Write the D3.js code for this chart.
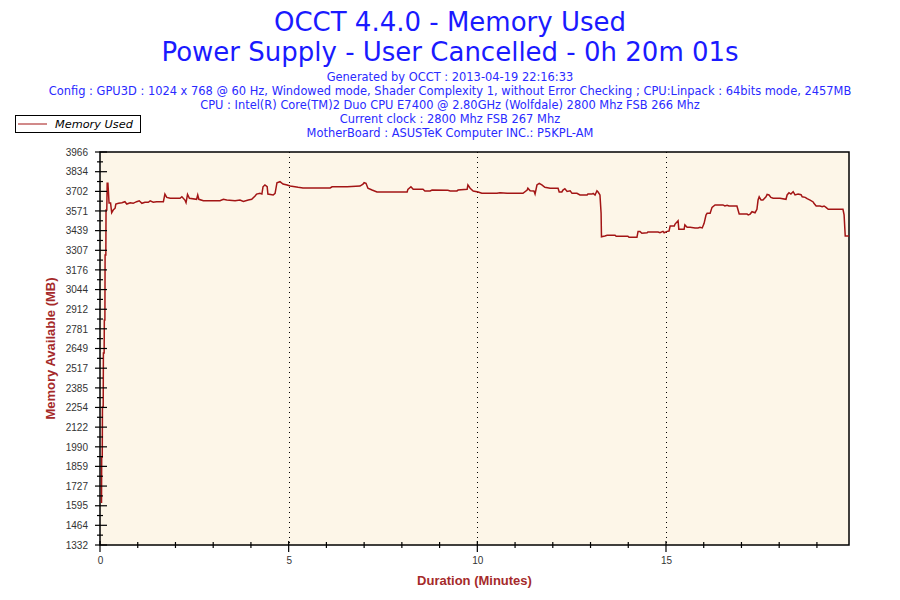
<!DOCTYPE html>
<html><head><meta charset="utf-8">
<script src="https://cdn.jsdelivr.net/npm/d3@7"></script>
<style>body{margin:0;background:#fff}svg{display:block}</style>
</head><body><svg id="c" width="900" height="600"></svg>
<script>
const titleLines = ["OCCT 4.4.0 - Memory Used", "Power Supply - User Cancelled - 0h 20m 01s"];
const infoLines = [
  "Generated by OCCT : 2013-04-19 22:16:33",
  "Config : GPU3D : 1024 x 768 @ 60 Hz, Windowed mode, Shader Complexity 1, without Error Checking ; CPU:Linpack : 64bits mode, 2457MB",
  "CPU : Intel(R) Core(TM)2 Duo CPU E7400 @ 2.80GHz (Wolfdale) 2800 Mhz FSB 266 Mhz",
  "Current clock : 2800 Mhz FSB 267 Mhz",
  "MotherBoard : ASUSTeK Computer INC.: P5KPL-AM"
];
const seriesName = "Memory Used";
const xLabel = "Duration (Minutes)";
const yLabel = "Memory Available (MB)";
const xTickLabels = [0, 5, 10, 15];
const xMinorTicks = [1,2,3,4,6,7,8,9,11,12,13,14,16,17,18,19];
const yTickLabels = [1332,1464,1595,1727,1859,1990,2122,2254,2385,2517,2649,2781,2912,3044,3176,3307,3439,3571,3702,3834,3966];
const xDomain = [0, 19.85];
const yDomain = [1332, 3966];

const times = [0.04,0.045,0.06,0.065,0.085,0.09,0.11,0.115,0.13,0.135,0.155,0.16,0.18,0.19,0.21,0.24,0.28,0.31,0.35,0.40,0.42,0.49,0.58,0.66,0.71,0.80,0.88,0.97,1.04,1.11,1.19,1.28,1.33,1.41,1.50,1.68,1.72,1.77,1.86,2.12,2.17,2.25,2.28,2.32,2.37,2.56,2.59,2.62,2.74,3.18,3.27,3.36,3.58,3.71,3.80,3.93,4.02,4.11,4.15,4.24,4.29,4.32,4.37,4.43,4.45,4.59,4.64,4.69,4.77,4.85,4.96,5.04,5.25,5.38,6.10,6.15,6.55,6.89,6.97,7.00,7.05,7.10,7.21,7.34,8.14,8.16,8.24,8.30,8.56,8.61,8.75,8.80,9.22,9.28,9.46,9.49,9.73,9.75,9.81,9.89,10.02,10.12,10.52,10.60,10.79,11.21,11.32,11.34,11.40,11.50,11.53,11.58,11.64,11.71,11.79,11.93,12.14,12.17,12.24,12.27,12.32,12.38,12.46,12.51,12.64,12.72,12.91,12.93,13.04,13.07,13.12,13.17,13.20,13.25,13.28,13.29,13.38,13.44,13.65,13.68,13.99,14.02,14.23,14.26,14.31,14.36,14.50,14.52,14.79,14.84,14.92,14.95,15.03,15.08,15.11,15.22,15.24,15.32,15.34,15.48,15.50,15.56,15.64,15.77,15.85,15.90,15.96,16.01,16.06,16.09,16.17,16.22,16.30,16.51,16.56,16.62,16.67,16.88,16.94,17.15,17.18,17.23,17.28,17.36,17.41,17.44,17.47,17.52,17.57,17.65,17.68,17.73,17.78,17.84,18.02,18.18,18.21,18.26,18.31,18.37,18.42,18.50,18.58,18.61,18.69,18.74,18.82,18.90,18.92,18.98,19.08,19.14,19.19,19.24,19.30,19.69,19.72,19.75,19.85];
const memoryUsed = [1613,1922,1922,2257,2257,2619,2619,2840,2840,3276,3276,3577,3577,3756,3756,3624,3624,3559,3577,3589,3617,3622,3626,3633,3617,3626,3622,3633,3639,3622,3629,3629,3638,3629,3633,3633,3684,3662,3656,3656,3666,3644,3626,3682,3656,3649,3678,3649,3639,3639,3649,3644,3639,3644,3635,3644,3649,3671,3684,3689,3684,3733,3745,3733,3684,3678,3689,3760,3767,3751,3745,3738,3729,3725,3725,3733,3733,3738,3751,3760,3756,3723,3711,3698,3698,3716,3733,3716,3716,3705,3705,3711,3709,3705,3705,3711,3716,3745,3723,3705,3698,3689,3689,3693,3689,3689,3711,3723,3706,3705,3684,3745,3756,3745,3729,3723,3723,3698,3698,3711,3720,3702,3706,3689,3689,3678,3678,3684,3684,3689,3678,3706,3698,3678,3555,3398,3403,3408,3408,3401,3401,3394,3394,3434,3434,3421,3425,3430,3430,3425,3434,3425,3434,3436,3470,3470,3483,3505,3448,3448,3477,3461,3461,3457,3457,3461,3457,3488,3544,3555,3555,3595,3611,3611,3604,3609,3604,3604,3550,3550,3544,3550,3566,3559,3582,3644,3666,3644,3644,3666,3682,3678,3662,3656,3656,3649,3678,3693,3684,3700,3678,3684,3680,3666,3662,3653,3644,3631,3622,3604,3604,3599,3604,3595,3582,3582,3544,3403,3403];

const svg = d3.select("#c");
const W = 900, H = 600;
const m = {left:100, right:51, top:152, bottom:55};
const x = d3.scaleLinear().domain(xDomain).range([m.left, W - m.right]);
const y = d3.scaleLinear().domain(yDomain).range([H - m.bottom, m.top]);

// titles
const tFont = "Verdana, 'DejaVu Sans', sans-serif";
svg.selectAll("text.title").data(titleLines).enter().append("text")
  .attr("x", 450).attr("y", (d,i) => 31 + i*30)
  .attr("text-anchor","middle").attr("font-family", tFont).attr("font-size", 26)
  .attr("fill", "#1a1aff").text(d => d);
svg.selectAll("text.info").data(infoLines).enter().append("text")
  .attr("x", 450).attr("y", (d,i) => 81 + i*14)
  .attr("text-anchor","middle").attr("font-family", tFont).attr("font-size", 11.45)
  .attr("fill", "#2a2aff").text(d => d);

// plot background
svg.append("rect").attr("x", x(xDomain[0])).attr("y", y(yDomain[1]))
  .attr("width", x(xDomain[1]) - x(xDomain[0])).attr("height", y(yDomain[0]) - y(yDomain[1]))
  .attr("fill", "#fdf6e8").attr("stroke", "#000").attr("stroke-width", 1.5);

// dotted vertical grid at major x ticks
svg.selectAll("line.grid").data(xTickLabels.filter(d => d > 0)).enter().append("line")
  .attr("x1", d => Math.round(x(d)) + 0.5).attr("x2", d => Math.round(x(d)) + 0.5)
  .attr("y1", y(yDomain[1])).attr("y2", y(yDomain[0]))
  .attr("stroke", "#000").attr("stroke-width", 1).attr("stroke-dasharray", "1,4");

// series line
const line = d3.line().x((d,i) => x(times[i])).y(d => y(d));
svg.append("path").datum(memoryUsed).attr("d", line)
  .attr("fill","none").attr("stroke","#a31515").attr("stroke-width", 1.5);

// axes
const axFont = "'Liberation Sans', Arial, sans-serif";
const yAxis = d3.axisLeft(y).tickValues(yTickLabels).tickSize(0).tickPadding(12).tickFormat(d3.format("d"));
const gy = svg.append("g").attr("transform", `translate(${m.left},0)`).call(yAxis);
gy.select(".domain").remove();
gy.selectAll("text").attr("font-family", axFont).attr("font-size", 10).attr("fill", "#333");
gy.selectAll("line.maj").data(yTickLabels).enter().append("line")
  .attr("x1", -5).attr("x2", 7).attr("y1", d => y(d)).attr("y2", d => y(d))
  .attr("stroke","#000").attr("stroke-width",1.2);
const yMinor = d3.pairs(yTickLabels).map(p => (p[0] + p[1]) / 2);
gy.selectAll("line.min").data(yMinor).enter().append("line")
  .attr("x1", -3).attr("x2", 3).attr("y1", d => y(d)).attr("y2", d => y(d))
  .attr("stroke","#000").attr("stroke-width",1.2);

const xAxis = d3.axisBottom(x).tickValues(xTickLabels).tickSize(0).tickPadding(12).tickFormat(d3.format("d"));
const gx = svg.append("g").attr("transform", `translate(0,${H - m.bottom})`).call(xAxis);
gx.select(".domain").remove();
gx.selectAll("text").attr("font-family", axFont).attr("font-size", 10).attr("fill", "#333");
gx.selectAll("line.maj").data(xTickLabels).enter().append("line")
  .attr("x1", d => x(d)).attr("x2", d => x(d)).attr("y1", -4).attr("y2", 7)
  .attr("stroke","#000").attr("stroke-width",1.2);
gx.selectAll("line.min").data(xMinorTicks).enter().append("line")
  .attr("x1", d => x(d)).attr("x2", d => x(d)).attr("y1", -3).attr("y2", 3)
  .attr("stroke","#000").attr("stroke-width",1.2);

// axis titles
svg.append("text").attr("x", (x(xDomain[0]) + x(xDomain[1]))/2).attr("y", 585)
  .attr("text-anchor","middle").attr("font-family", axFont).attr("font-size", 13)
  .attr("font-weight","bold").attr("fill","#a52a2a").text(xLabel);
svg.append("text").attr("transform", `translate(55,${(y(yDomain[0]) + y(yDomain[1]))/2}) rotate(-90)`)
  .attr("text-anchor","middle").attr("font-family", axFont).attr("font-size", 13)
  .attr("font-weight","bold").attr("fill","#a52a2a").text(yLabel);

// legend
const lg = svg.append("g");
lg.append("rect").attr("x", 15.5).attr("y", 115.5).attr("width", 125).attr("height", 17)
  .attr("fill","#fff").attr("stroke","#000").attr("stroke-width",1);
lg.append("line").attr("x1", 18).attr("x2", 47).attr("y1", 124).attr("y2", 124)
  .attr("stroke","#a31515").attr("stroke-width",1);
lg.append("text").attr("x", 55).attr("y", 128).attr("font-family", tFont).attr("font-size", 11.3)
  .attr("font-style","italic").attr("fill","#000").text(seriesName);
</script></body></html>
